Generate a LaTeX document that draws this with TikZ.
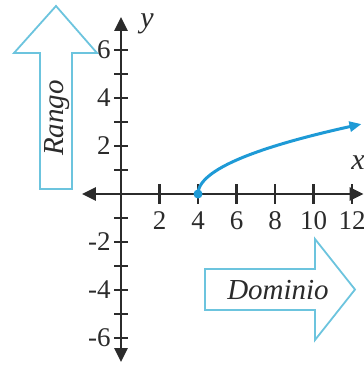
\documentclass[tikz,border=0pt]{standalone}
\usepackage{fontspec}
\setmainfont{Liberation Serif}
\usetikzlibrary{arrows.meta}
\definecolor{axisgray}{HTML}{2B2B2B}
\definecolor{curveblue}{HTML}{1E9AD6}
\definecolor{outlineblue}{HTML}{6CC4DE}
\tikzset{
  axis/.style={draw=axisgray, line width=1.3pt, {Triangle[length=7pt,width=6.5pt]}-{Triangle[length=7pt,width=6.5pt]}},
  tickmark/.style={draw=axisgray, line width=1.1pt},
  ticklabel/.style={font=\fontsize{13.5}{15}\selectfont, text=axisgray, inner sep=1pt},
  axislabel/.style={font=\fontsize{15}{17}\selectfont\itshape, text=axisgray, inner sep=1pt},
  blockarrow/.style={draw=outlineblue, line width=0.9pt, fill=white, line join=miter},
  arrowtext/.style={font=\fontsize{14.5}{16}\selectfont\itshape, text=axisgray},
  graphline/.style={draw=curveblue, line width=1.5pt, -{Triangle[length=6pt,width=5pt]}},
  startdot/.style={circle, fill=curveblue, inner sep=0pt, minimum size=4.5pt}
}

\begin{document}
\begin{tikzpicture}[x=0.5pt, y=-0.5pt]
  \useasboundingbox (0,0) rectangle (364,365);
  % Rango and Dominio arrows
  \draw[blockarrow] (40,189) -- (40,53) -- (14,53) -- (56,6) -- (97,53) -- (72,53) -- (72,189) -- cycle;
  \node[arrowtext, rotate=90] (rango) at (57,118) {Rango};
  \draw[blockarrow] (205,269) -- (315,269) -- (315,239) -- (355,289.5) -- (315,340) -- (315,310) -- (205,310) -- cycle;
  \node[arrowtext] (dominio) at (278,290) {Dominio};

  % coordinate plane
  \begin{scope}[shift={(121,194)}, x=9.625pt, y=12pt]
    \coordinate (xmin) at (-2.03,0);
    \coordinate (xmax) at (12.6,0);
    \coordinate (ymin) at (0,-7);
    \coordinate (ymax) at (0,7.38);
    \draw[axis] (xmin) -- (xmax);
    \draw[axis] (ymin) -- (ymax);
    \foreach \k in {-6,...,-1,1,2,...,6}
      \draw[tickmark] (-0.36,\k) -- (0.36,\k);
    \foreach \k in {-6,-4,-2,2,4,6}
      \node[ticklabel, anchor=east] (ylab\k) at (-0.42,\k) {\k};
    \foreach \k in {2,4,...,12} {
      \draw[tickmark] (\k,-0.4) -- (\k,0.4);
      \node[ticklabel, anchor=north] (xlab\k) at (\k,-0.62) {\k};
    }
    \node[axislabel] (ylabel) at (1.35,7.08) {y};
    \node[axislabel] (xlabel) at (12.31,1.29) {x};

    \node[startdot] (start) at (4,0) {};
    \draw[graphline] (start.center) plot[domain=0:2.915, samples=60, variable=\t] ({4+\t*\t},{\t});
  \end{scope}
\end{tikzpicture}
\end{document}
